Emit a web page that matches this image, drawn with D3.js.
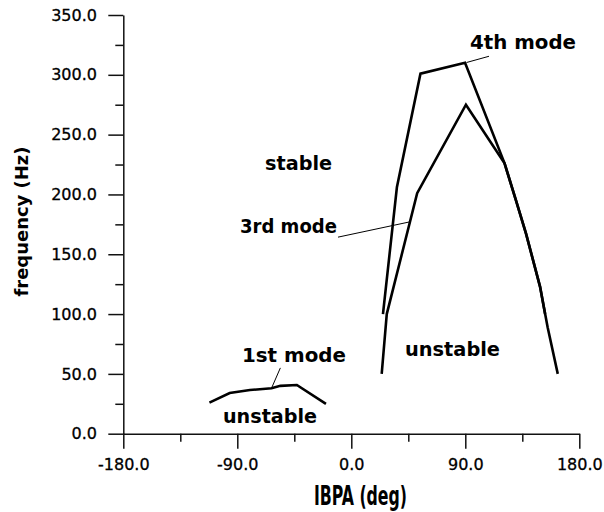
<!DOCTYPE html>
<html>
<head>
<meta charset="utf-8">
<script src="https://cdn.jsdelivr.net/npm/d3@7"></script>
<style>
  html, body { margin: 0; padding: 0; background: #fff; }
  svg { display: block; }
</style>
</head>
<body>
<svg id="chart" width="604" height="512"></svg>
<script>
// Flutter stability boundaries: frequency vs inter-blade phase angle (IBPA)
const mode1Deg = [-112, -96, -80, -63, -56, -43, -20];
const mode1Hz  = [26, 34, 36.5, 38, 40, 40.7, 25];

const mode3Deg = [24, 28, 52, 90.5, 121, 130, 138, 149, 155, 163];
const mode3Hz  = [50, 100, 201, 275, 226, 195, 167, 123, 89, 50];

const mode4Deg = [25, 36, 54.6, 89.8, 121, 130, 138, 149, 153];
const mode4Hz  = [100, 206, 301, 310, 226, 195, 167, 123, 100];

const xMajorTicks = [-180, -90, 0, 90, 180];
const xMinorTicks = [-135, -45, 45, 135];
const yMajorTicks = [0, 50, 100, 150, 200, 250, 300, 350];
const yMinorTicks = [25, 75, 125, 175, 225, 275, 325];

// text annotations: [text, IBPA at left edge, frequency at baseline, width]
const labels = [
  ["stable",   -68.1, 220.3, 67],
  ["3rd mode", -87.9, 167.7, 97],
  ["4th mode",  93.7, 321.8, 106],
  ["1st mode", -86.3,  59.9, 104],
  ["unstable",-101.3,   9.0, 94],
  ["unstable",  42.4,  65.3, 95]
];

// leader lines from labels to curves: [deg0, hz0, deg1, hz1]
const leaders = [
  [-56, 55, -63, 38],
  [-10.5, 164.3, 46.3, 177.1],
  [108.7, 315.5, 91, 310.3]
];

const svg = d3.select("#chart");
const x = d3.scaleLinear().domain([-180, 180]).range([123.3, 579.3]);
const y = d3.scaleLinear().domain([0, 350]).range([433.7, 15]);

// plain hyphen-minus for negative tick values
const fmt = d3.formatLocale({decimal: ".", thousands: ",", grouping: [3], currency: ["", ""], minus: "-"}).format(".1f");

// y axis
svg.append("g").attr("transform", `translate(${x(-180)},0)`)
  .call(d3.axisLeft(y).tickValues(yMajorTicks).tickSize(15).tickSizeOuter(0)
    .tickPadding(11.3).tickFormat(fmt));
svg.append("g").attr("transform", `translate(${x(-180)},0)`)
  .call(d3.axisLeft(y).tickValues(yMinorTicks).tickSize(8).tickFormat(""))
  .call(g => g.select(".domain").remove());

// x axis
svg.append("g").attr("transform", `translate(0,${y(0)})`)
  .call(d3.axisBottom(x).tickValues(xMajorTicks).tickSize(15).tickSizeOuter(0)
    .tickPadding(9.9).tickFormat(fmt));
svg.append("g").attr("transform", `translate(0,${y(0)})`)
  .call(d3.axisBottom(x).tickValues(xMinorTicks).tickSize(8).tickFormat(""))
  .call(g => g.select(".domain").remove());

svg.selectAll(".domain, .tick line").attr("stroke", "#111").attr("stroke-width", 1.5);
svg.selectAll(".tick text")
  .attr("font-family", "DejaVu Sans")
  .attr("font-size", 16)
  .attr("fill", "#000")
  .attr("stroke", "#000")
  .attr("stroke-width", 0.3);

// axis titles
svg.append("text")
  .attr("transform", `translate(${28},${221.5}) rotate(-90)`)
  .attr("text-anchor", "middle")
  .attr("font-family", "DejaVu Sans")
  .attr("font-weight", "bold")
  .attr("font-size", 18)
  .attr("textLength", 150)
  .attr("lengthAdjust", "spacingAndGlyphs")
  .text("frequency (Hz)");

svg.append("text")
  .attr("transform", "translate(314,505) scale(1,1.12)")
  .attr("font-family", "DejaVu Sans Condensed, DejaVu Sans")
  .attr("font-weight", "bold")
  .attr("font-size", 23)
  .attr("textLength", 93)
  .attr("lengthAdjust", "spacingAndGlyphs")
  .text("IBPA (deg)");

// mode curves
const line = d3.line().x(d => x(d[0])).y(d => y(d[1]));
const curves = [
  d3.zip(mode1Deg, mode1Hz),
  d3.zip(mode3Deg, mode3Hz),
  d3.zip(mode4Deg, mode4Hz)
];
svg.selectAll("path.mode").data(curves).join("path")
  .attr("class", "mode")
  .attr("d", line)
  .attr("fill", "none")
  .attr("stroke", "#000")
  .attr("stroke-width", 2.6)
  .attr("stroke-linejoin", "miter");

// leader lines
svg.selectAll("line.leader").data(leaders).join("line")
  .attr("class", "leader")
  .attr("x1", d => x(d[0])).attr("y1", d => y(d[1]))
  .attr("x2", d => x(d[2])).attr("y2", d => y(d[3]))
  .attr("stroke", "#000")
  .attr("stroke-width", 1);

// region / mode labels
svg.selectAll("text.lbl").data(labels).join("text")
  .attr("class", "lbl")
  .attr("x", d => x(d[1]))
  .attr("y", d => y(d[2]))
  .attr("font-family", "DejaVu Sans")
  .attr("font-weight", "bold")
  .attr("font-size", 19)
  .attr("textLength", d => d[3])
  .attr("lengthAdjust", "spacingAndGlyphs")
  .attr("fill", "#000")
  .text(d => d[0]);
</script>
</body>
</html>
